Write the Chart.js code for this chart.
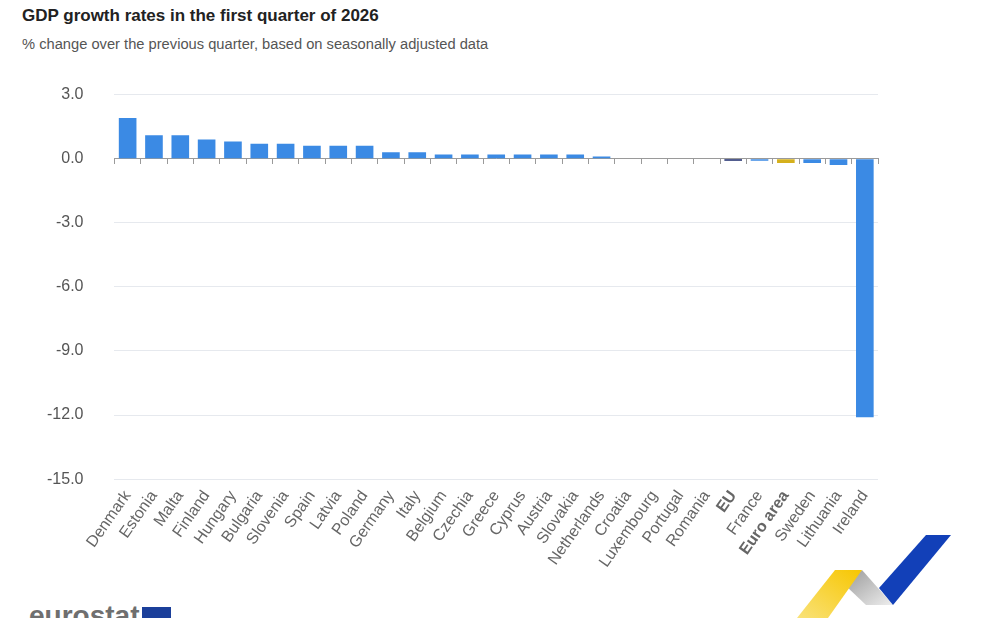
<!DOCTYPE html>
<html>
<head>
<meta charset="utf-8">
<script src="https://cdn.jsdelivr.net/npm/chart.js@4.4.1/dist/chart.umd.min.js"></script>
<style>
  html, body { margin: 0; padding: 0; background: #fff; }
  body { width: 990px; height: 618px; position: relative; overflow: hidden; font-family: "Liberation Sans", Arial, sans-serif; }
  .title { position: absolute; left: 22px; top: 6px; font-size: 17px; font-weight: bold; color: #222; }
  .subtitle { position: absolute; left: 22px; top: 36px; font-size: 14.7px; color: #555; }
  .chart_box { position: absolute; left: 0; top: 54px; width: 990px; height: 527px; }
  .logo_text { position: absolute; left: 29px; top: 600px; font-size: 28px; font-weight: bold; color: #6f6f6f; }
  .logo_flag { position: absolute; left: 142px; top: 607px; width: 29px; height: 20px; background: #1b3f9a; }
  .ribbon { position: absolute; left: 0; top: 0; }
</style>
</head>
<body>
<div class="title">GDP growth rates in the first quarter of 2026</div>
<div class="subtitle">% change over the previous quarter, based on seasonally adjusted data</div>
<div class="chart_box"><canvas id="gdp_chart"></canvas></div>
<div class="logo_text">eurostat</div>
<div class="logo_flag"></div>
<svg class="ribbon" width="990" height="618">
  <defs>
    <linearGradient id="greyGrad" x1="0" y1="0" x2="1" y2="1">
      <stop offset="0" stop-color="#9a9a9a"/>
      <stop offset="1" stop-color="#eeeeee"/>
    </linearGradient>
    <linearGradient id="yellowGrad" x1="1" y1="0" x2="0" y2="1">
      <stop offset="0" stop-color="#f7c600"/>
      <stop offset="1" stop-color="#f9e27a"/>
    </linearGradient>
  </defs>
  <polygon points="862,570 893,605 866,605 846,586" fill="url(#greyGrad)"/>
  <polygon points="835,570 862,570 828,618 797,618" fill="url(#yellowGrad)"/>
  <polygon points="926,535 951,535 893,605 879,588" fill="#1240b8"/>
</svg>

<script>
// Categories and values
const countries = ["Denmark", "Estonia", "Malta", "Finland", "Hungary", "Bulgaria", "Slovenia", "Spain",
  "Latvia", "Poland", "Germany", "Italy", "Belgium", "Czechia", "Greece", "Cyprus", "Austria", "Slovakia",
  "Netherlands", "Croatia", "Luxembourg", "Portugal", "Romania", "EU", "France", "Euro area", "Sweden",
  "Lithuania", "Ireland"];
const growthRates = [1.9, 1.1, 1.1, 0.9, 0.8, 0.7, 0.7, 0.6, 0.6, 0.6, 0.3, 0.3, 0.2, 0.2, 0.2, 0.2, 0.2, 0.2,
  0.1, 0.0, 0.0, 0.0, 0.0, -0.1, -0.1, -0.2, -0.2, -0.3, -12.1];
const yTicks = [3, 0, -3, -6, -9, -12, -15];

// Aggregates are shown in bold and with their own colour
const aggregates = ["EU", "Euro area"];

function barColour(ctx) {
  const name = countries[ctx.dataIndex];
  if (name === "EU") return "#18276a";
  if (name === "Euro area") return "#d5b01c";
  return "#3b8ae4";
}

const chart = new Chart(document.getElementById("gdp_chart"), {
  type: "bar",
  data: {
    labels: countries,
    datasets: [{
      label: "GDP growth",
      data: growthRates,
      backgroundColor: barColour,
      borderWidth: 0,
      categoryPercentage: 1.0,
      barPercentage: 0.67
    }]
  },
  options: {
    responsive: true,
    maintainAspectRatio: false,
    animation: false,
    layout: { padding: { left: 16, right: 112, top: 11, bottom: 10 } },
    plugins: {
      legend: { display: false },
      tooltip: { enabled: false }
    },
    scales: {
      x: {
        grid: { display: false },
        border: { display: false },
        ticks: {
          autoSkip: false,
          maxRotation: 55,
          minRotation: 55,
          padding: 0,
          color: "#666",
          font: (ctx) => ({
            family: "'Liberation Sans', Arial, sans-serif",
            size: 16,
            weight: aggregates.includes(countries[ctx.index]) ? "bold" : "normal"
          })
        }
      },
      // Zero line with tick marks between categories
      xZero: {
        type: "category",
        labels: countries,
        position: { y: 0 },
        offset: true,
        grid: { display: true, drawOnChartArea: false, drawTicks: true, tickLength: 5, offset: true, color: "#9a9a9a" },
        border: { display: true, color: "#9a9a9a", width: 1 },
        ticks: { display: false }
      },
      y: {
        min: -15,
        max: 3,
        afterBuildTicks: (axis) => { axis.ticks = yTicks.map(v => ({ value: v })); },
        grid: { color: "#e6e9ee", drawTicks: false },
        border: { display: false },
        ticks: {
          padding: 31,
          color: "#555",
          font: { family: "'Liberation Sans', Arial, sans-serif", size: 16 },
          callback: (value) => value.toFixed(1)
        }
      }
    }
  }
});
</script>
</body>
</html>
